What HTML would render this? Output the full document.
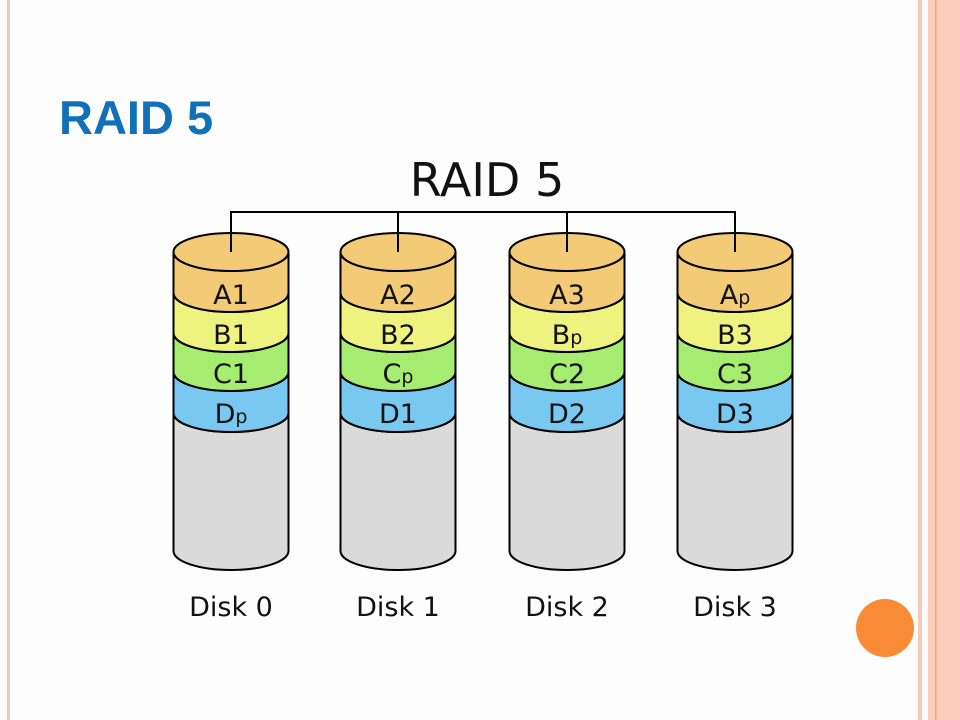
<!DOCTYPE html>
<html><head><style>
html,body{margin:0;padding:0;background:#fdfdfd;}
svg{display:block}
</style></head><body>
<svg width="960" height="720" viewBox="0 0 960 720" xmlns="http://www.w3.org/2000/svg">
<defs>
<g id="cyl" stroke="#000" stroke-width="2">
<path d="M-57.5 413 L-57.5 551 A57.5 19 0 0 0 57.5 551 L57.5 413 A57.5 19 0 0 1 -57.5 413Z" fill="#dadada"/>
<path d="M-57.5 372 L-57.5 413 A57.5 19 0 0 0 57.5 413 L57.5 372 A57.5 19 0 0 1 -57.5 372Z" fill="#78c8f0"/>
<path d="M-57.5 333 L-57.5 372 A57.5 19 0 0 0 57.5 372 L57.5 333 A57.5 19 0 0 1 -57.5 333Z" fill="#a6ec70"/>
<path d="M-57.5 293 L-57.5 333 A57.5 19 0 0 0 57.5 333 L57.5 293 A57.5 19 0 0 1 -57.5 293Z" fill="#eef27f"/>
<path d="M-57.5 252 L-57.5 293 A57.5 19 0 0 0 57.5 293 L57.5 252 A57.5 19 0 0 1 -57.5 252Z" fill="#f3cb77"/>
<ellipse cx="0" cy="252" rx="57.5" ry="19" fill="#f3cb77"/>
</g>
</defs>
<rect width="960" height="720" fill="#fdfdfd"/>
<rect x="7" y="0" width="3" height="720" fill="#f4c4b0"/>
<rect x="918" y="0" width="4" height="720" fill="#f6c8b6"/>
<rect x="928" y="0" width="32" height="720" fill="#f9cdb9"/>
<rect x="935" y="0" width="1.5" height="720" fill="#e7a58a"/>
<circle cx="885" cy="628" r="29" fill="#f98b37"/>
<text x="59" y="134" font-family="Liberation Sans, sans-serif" font-weight="bold" font-size="47" fill="#1070b8">RAID 5</text>
<use href="#cyl" transform="translate(231,0)"/>
<use href="#cyl" transform="translate(398,0)"/>
<use href="#cyl" transform="translate(567,0)"/>
<use href="#cyl" transform="translate(735,0)"/>
<text x="487" y="196" text-anchor="middle" font-family="DejaVu Sans, sans-serif" font-size="46" fill="#111">RAID 5</text>
<path d="M231 252 V212 H735 V252 M398 212 V252 M567 212 V252" fill="none" stroke="#000" stroke-width="2"/>
<g font-family="DejaVu Sans, sans-serif" font-size="27" text-anchor="middle" fill="#111">
<text x="231" y="304">A1</text><text x="231" y="344">B1</text><text x="231" y="383">C1</text><text x="231" y="423">D<tspan font-size="19">p</tspan></text>
<text x="398" y="304">A2</text><text x="398" y="344">B2</text><text x="398" y="383">C<tspan font-size="19">p</tspan></text><text x="398" y="423">D1</text>
<text x="567" y="304">A3</text><text x="567" y="344">B<tspan font-size="19">p</tspan></text><text x="567" y="383">C2</text><text x="567" y="423">D2</text>
<text x="735" y="304">A<tspan font-size="19">p</tspan></text><text x="735" y="344">B3</text><text x="735" y="383">C3</text><text x="735" y="423">D3</text>
</g>
<g font-family="DejaVu Sans, sans-serif" font-size="27" text-anchor="middle" fill="#111">
<text x="231" y="616">Disk 0</text><text x="398" y="616">Disk 1</text><text x="567" y="616">Disk 2</text><text x="735" y="616">Disk 3</text>
</g>
</svg>
</body></html>
